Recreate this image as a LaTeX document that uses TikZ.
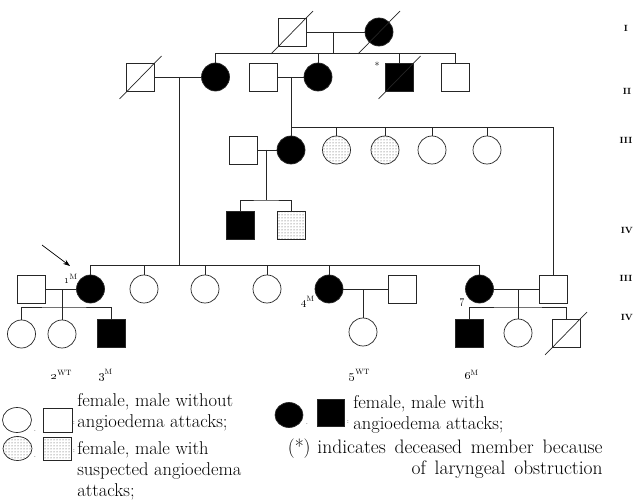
\documentclass[tikz,border=0pt]{standalone}
\usetikzlibrary{shapes.geometric,patterns,arrows.meta}

\tikzset{
  male/.style={draw, rectangle, minimum size=28pt, inner sep=0pt},
  female/.style={draw, circle, minimum size=28pt, inner sep=0pt},
  affected/.style={fill=black},
  suspected/.style={pattern=dots, pattern color=black!75},
  gen/.style={font=\fontsize{9}{10}\selectfont\bfseries},
  idlabel/.style={font=\fontsize{11}{12}\selectfont},
  legtext/.style={font=\fontsize{18.5}{21}\selectfont, inner sep=0pt},
  tinymark/.style={font=\fontsize{7}{8}\selectfont, inner sep=0pt},
}
\newcommand{\deadslash}[1]{\draw ([shift={(-21,22)}]#1.center) -- ([shift={(21,-21)}]#1.center);}

\begin{document}
\begin{tikzpicture}[x=1pt, y=-1pt, line width=0.7pt, draw=black!85]
    \useasboundingbox (0,0) rectangle (633,503);

    % generation I
    \node [male] (gIa) at (292,32) {};
    \node [female,affected] (gIb) at (379,32) {};
    \deadslash{gIa} \deadslash{gIb}

    % generation II
    \node [male] (d1) at (140.5,77) {};
    \node [female,affected] (f1) at (215.5,77) {};
    \node [male] (m1) at (263,77) {};
    \node [female,affected] (f2) at (318,77) {};
    \node [male,affected] (m2) at (399.5,77) {};
    \node [male] (m3) at (455,77) {};
    \deadslash{d1} \deadslash{m2}
    \node [font=\fontsize{10}{10}\selectfont, inner sep=0pt] (ast) at (377,66) {*};

    % generation III (upper)
    \node [male] (s3) at (243,150) {};
    \node [female,affected] (f3) at (291,150) {};
    \node [female,suspected] (h1) at (336.5,150) {};
    \node [female,suspected] (h2) at (385,150) {};
    \node [female] (h3) at (432,150) {};
    \node [female] (h4) at (487,150) {};

    % generation IV (upper)
    \node [male,affected] (k1) at (240,225) {};
    \node [male,suspected] (k2) at (291,225) {};

    % generation III (lower)
    \node [male] (p1) at (31,289) {};
    \node [female,affected] (c1) at (90.5,289) {};
    \node [female] (c2) at (144,289) {};
    \node [female] (c3) at (205,289) {};
    \node [female] (c5) at (267,289) {};
    \node [female,affected] (c4) at (329,289) {};
    \node [male] (s4) at (402,289) {};
    \node [female,affected] (c7) at (479.5,289) {};
    \node [male] (s7) at (553.5,289) {};

    % generation IV (lower)
    \node [female] (g1) at (21.5,334) {};
    \node [female] (g2) at (62,334) {};
    \node [male,affected] (g3) at (111,333) {};
    \node [female] (g5) at (363,332) {};
    \node [male,affected] (g6) at (469,333) {};
    \node [female] (g7) at (518,333) {};
    \node [male] (g8) at (566,333) {};
    \deadslash{g8}

    % marriages and sibships
    \coordinate (mI) at (333,32);
    \coordinate (sI) at (333,53);
    \draw (gIa.east) -- (gIb.west);
    \draw (mI) -- (sI);
    \draw (f1.north) |- (m3.north |- sI) -- (m3.north);
    \draw (f2.north) -- (f2.north |- sI);
    \draw (m2.north) -- (m2.north |- sI);

    \coordinate (mII1) at (179,77);
    \coordinate (sIII2) at (179,265.5);
    \draw (d1.east) -- (f1.west);
    \draw (mII1) -- (sIII2);
    \draw (c1.north) |- (sIII2) -| (c7.north);
    \foreach \n in {c2,c3,c5,c4}
      \draw (\n.north) -- (\n.north |- sIII2);

    \coordinate (mII2) at (291,77);
    \coordinate (sIII1) at (291,127);
    \draw (m1.east) -- (f2.west);
    \draw (mII2) -- (f3.north);
    \draw (sIII1) -| (s7.north);
    \foreach \n in {h1,h2,h3,h4}
      \draw (\n.north) -- (\n.north |- sIII1);

    \coordinate (mIII1) at (266.5,150);
    \coordinate (sIV1) at (266.5,200);
    \draw (s3.east) -- (f3.west);
    \draw (mIII1) -- (sIV1);
    \draw (k1.north) |- (sIV1) -| (k2.north);

    \coordinate (mIII2) at (62,289);
    \coordinate (sIV2) at (62,307);
    \draw (p1.east) -- (c1.west);
    \draw (mIII2) -- (g2.north);
    \draw (g1.north) |- (sIV2) -| (g3.north);

    \coordinate (mIII3) at (363,289);
    \draw (c4.east) -- (s4.west);
    \draw (mIII3) -- (g5.north);

    \coordinate (mIII4) at (518,289);
    \coordinate (sIV3) at (518,307);
    \draw (c7.east) -- (s7.west);
    \draw (mIII4) -- (g7.north);
    \draw (g6.north) |- (sIV3) -| (g8.north);

    % proband arrow and labels
    \node [idlabel] (l1) at (71,279) {\oldstylenums{1}\textsuperscript{M}};
    \node [idlabel] (l4) at (308,302) {\oldstylenums{4}\textsuperscript{M}};
    \node [idlabel] (l7) at (462,302) {\oldstylenums{7}};
    \node [idlabel] (l2) at (62,375) {\oldstylenums{2}\textsuperscript{WT}};
    \node [idlabel] (l3) at (106,375) {\oldstylenums{3}\textsuperscript{M}};
    \node [idlabel] (l5) at (360,375) {\oldstylenums{5}\textsuperscript{WT}};
    \node [idlabel] (l6) at (472,375) {\oldstylenums{6}\textsuperscript{M}};
    \coordinate (arrtail) at (42,245);
    \coordinate (arrtip) at (70,266);
    \draw [-{Stealth[length=7pt,width=5pt]}, black] (arrtail) -- (arrtip);

    % generation numbers
    \node [gen] (gen1) at (626,28) {I};
    \node [gen] (gen2) at (627,91) {II};
    \node [gen] (gen3) at (626,140) {III};
    \node [gen] (gen4) at (627,230) {IV};
    \node [gen] (gen5) at (626,278) {III};
    \node [gen] (gen6) at (627,317) {IV};

    % legend
    \node [draw, ellipse, minimum width=29pt, minimum height=25pt, inner sep=0pt] (lc1) at (17,420) {};
    \node [tinymark] (ld1) at (35,431) {.};
    \node [draw, rectangle, minimum width=29pt, minimum height=24pt, inner sep=0pt] (lq1) at (57.5,420) {};
    \node [tinymark] (lk1) at (74,423) {:};
    \node [legtext, anchor=north west, align=left] (lt1) at (77,393) {female, male without\\angioedema attacks;};

    \node [draw, ellipse, suspected, minimum width=29pt, minimum height=24pt, inner sep=0pt] (lc2) at (17.5,448.5) {};
    \node [tinymark] (ld2) at (35,457) {.};
    \node [draw, rectangle, suspected, minimum width=28pt, minimum height=23pt, inner sep=0pt] (lq2) at (57,448.5) {};
    \node [tinymark] (lk2) at (74,451) {:};
    \node [legtext, anchor=north west, align=left] (lt2) at (77,441) {female, male with\\suspected angioedema\\attacks;};

    \node [draw, ellipse, affected, minimum width=28pt, minimum height=25pt, inner sep=0pt] (lc3) at (289,415) {};
    \node [tinymark] (ld3) at (307,424) {.};
    \node [male, affected, minimum size=27pt] (lq3) at (330.5,412.5) {};
    \node [tinymark] (lk3) at (348,422) {:};
    \node [legtext, anchor=north west, align=left] (lt3) at (353,395) {female, male with\\angioedema attacks;};
    \node [legtext, font=\fontsize{19.5}{20.5}\selectfont, anchor=north east, align=right] (lt4) at (603,439) {(*)\hspace{0.35em}indicates\hspace{0.45em}deceased\hspace{0.45em}member\hspace{0.45em}because\\of\hspace{0.45em}laryngeal\hspace{0.45em}obstruction};
\end{tikzpicture}
\end{document}
